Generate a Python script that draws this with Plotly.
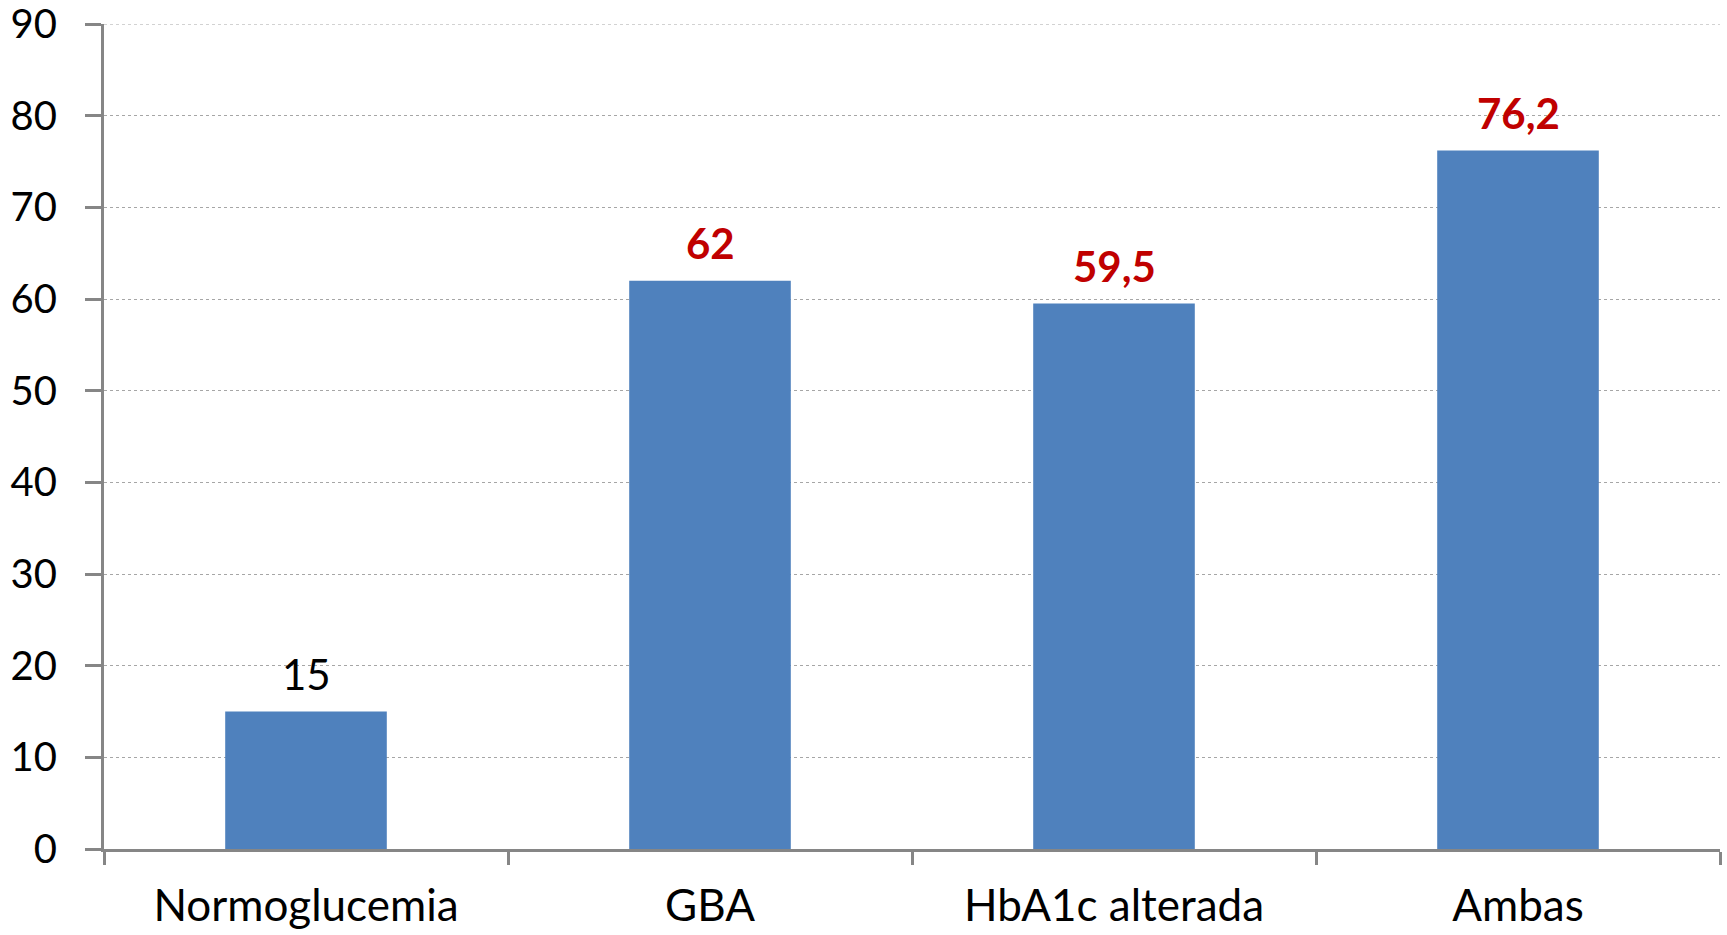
import plotly.graph_objects as go

categories = ["Normoglucemia", "GBA", "HbA1c alterada", "Ambas"]
values = [15, 62, 59.5, 76.2]
label_colors = ["#000000", "#C00000", "#C00000", "#C00000"]
label_bold = [False, True, True, True]
y_ticks = [0, 10, 20, 30, 40, 50, 60, 70, 80, 90]


def fmt(v):
    s = f"{v:g}"
    return s.replace(".", ",")


FONT = "Lato"
AXIS_COLOR = "#868686"
GRID_COLOR = "#A6A6A6"
Y_MAX = y_ticks[-1]

fig = go.Figure(
    go.Bar(
        x=categories,
        y=values,
        marker=dict(color="#4F81BD", line=dict(width=0)),
        width=0.4,
        hoverinfo="skip",
    )
)

for cat, v, c, b in zip(categories, values, label_colors, label_bold):
    txt = fmt(v)
    if b:
        txt = f"<b>{txt}</b>"
    fig.add_annotation(
        x=cat, y=v, text=txt, showarrow=False,
        yanchor="bottom", yshift=11,
        font=dict(family=FONT, size=42, color=c),
    )

# top grid line sits on the upper edge of the plot area
fig.add_shape(
    type="line", xref="paper", yref="y",
    x0=0, x1=1, y0=Y_MAX, y1=Y_MAX,
    line=dict(color=GRID_COLOR, width=1, dash="dot"),
    layer="below",
)

fig.update_layout(
    width=1727, height=935,
    margin=dict(l=104, r=7, t=24, b=86),
    paper_bgcolor="white", plot_bgcolor="white",
    showlegend=False,
    font=dict(family=FONT, size=40, color="#000000"),
)

fig.update_xaxes(
    type="category", automargin=False,
    showline=True, linecolor=AXIS_COLOR, linewidth=3,
    ticks="outside", tickson="boundaries", ticklen=13, tickwidth=3, tickcolor=AXIS_COLOR,
    showgrid=False, zeroline=False,
    ticklabelstandoff=16,
    tickfont=dict(family=FONT, size=44, color="#000000"),
)

fig.update_yaxes(
    range=[0, Y_MAX], automargin=False,
    tickvals=y_ticks,
    showline=True, linecolor=AXIS_COLOR, linewidth=3,
    ticks="outside", ticklen=16, tickwidth=3, tickcolor=AXIS_COLOR,
    showgrid=True, gridcolor=GRID_COLOR, gridwidth=1, griddash="dot",
    zeroline=False,
    ticklabelstandoff=20, ticklabeloverflow="allow",
    tickfont=dict(family=FONT, size=40, color="#000000"),
)

fig.write_html("out.html")
